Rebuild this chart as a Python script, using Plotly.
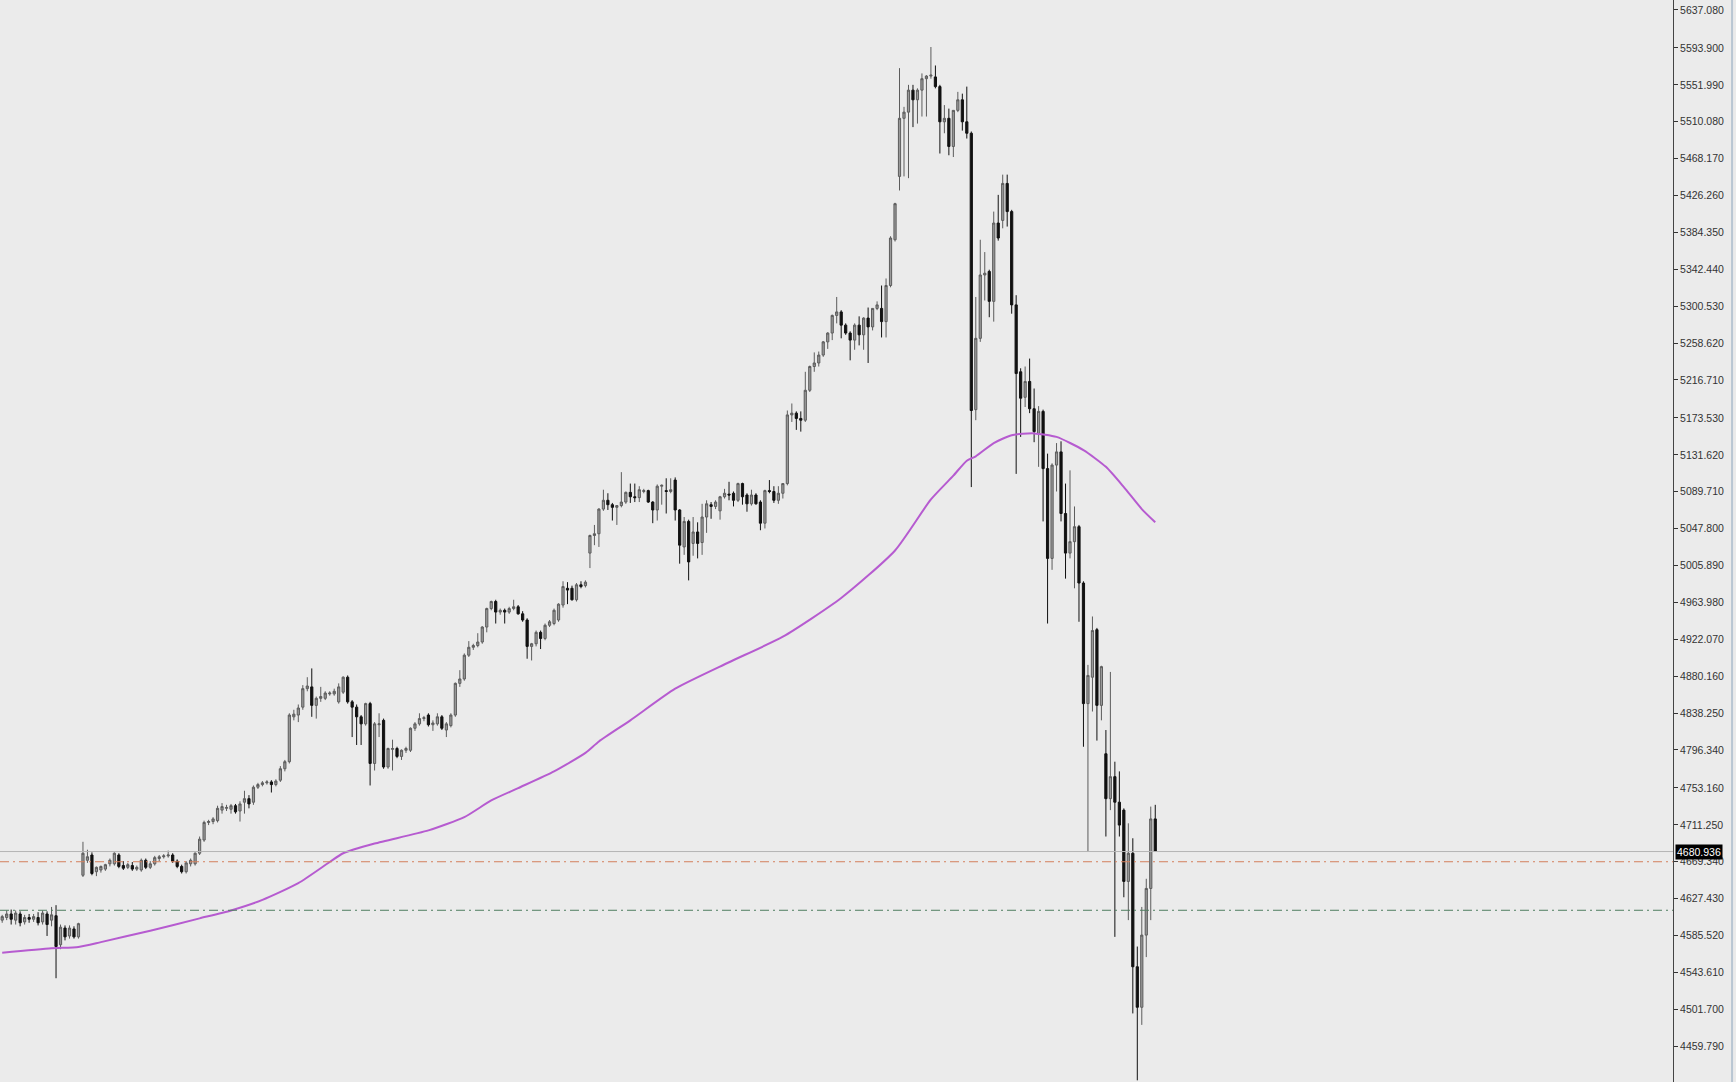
import plotly.graph_objects as go

# ---------------- data ----------------
open_ = [
    4603, 4606, 4610, 4603, 4610, 4601, 4606, 4604, 4606, 4601, 4610, 4603, 4608, 4575, 4594, 4585, 4593, 4584,
    4654, 4671, 4677, 4658, 4660, 4661, 4667, 4667, 4677, 4665, 4663, 4665, 4661, 4660, 4671, 4663, 4667, 4673,
    4675, 4676, 4677, 4670, 4664, 4658, 4667, 4667, 4679, 4694, 4714, 4715, 4716, 4728, 4730, 4729, 4733, 4727,
    4737, 4741, 4737, 4754, 4757, 4759, 4760, 4757, 4762, 4775, 4783, 4834, 4836,
    4845, 4866, 4868, 4847, 4855, 4855, 4860, 4860, 4851, 4862, 4879, 4851, 4845, 4834, 4826, 4849, 4781, 4825,
    4830, 4777, 4797, 4798, 4789, 4796, 4796, 4821, 4826, 4832, 4836, 4825, 4826, 4834, 4819, 4824, 4836, 4872,
    4877, 4904, 4913, 4915, 4919, 4936, 4957, 4965, 4953, 4955, 4953, 4957, 4959, 4951, 4944, 4914, 4917, 4930,
    4923, 4938, 4940, 4944, 4961, 4980, 4980, 4967, 4984, 4983,
    5020, 5040, 5042, 5070, 5080, 5075, 5072, 5074, 5078, 5089, 5084, 5083, 5090, 5091, 5078, 5069, 5096, 5091,
    5090, 5103, 5069, 5027, 5056, 5031, 5044, 5032, 5061, 5075, 5073, 5068, 5084, 5087, 5088, 5080, 5099, 5086,
    5076, 5086, 5078, 5054, 5091, 5090, 5080, 5088,
    5099, 5177, 5179, 5173, 5171, 5205, 5232, 5236, 5245, 5260, 5270, 5290, 5294, 5279, 5270, 5262, 5279, 5268,
    5287, 5277, 5298, 5298, 5283, 5324, 5376,
    5448, 5514, 5521, 5546, 5535, 5546, 5559, 5562, 5561, 5550, 5510, 5514, 5482, 5523, 5535, 5510, 5497, 5183,
    5264, 5336, 5340, 5306, 5395, 5398, 5440, 5408, 5302,
    5226, 5197, 5215, 5184, 5156, 5181, 5116, 5014, 5120, 5135, 5065, 5020, 5033, 5050,
    4986, 4849, 4879, 4933, 4847, 4792, 4741, 4766, 4737, 4728, 4647, 4679, 4550, 4504, 4586, 4639, 4718,
]
high = [
    4609, 4614, 4615, 4614, 4613, 4609, 4610, 4610, 4612, 4614, 4613, 4618, 4620, 4598, 4597, 4597, 4596, 4600,
    4692, 4683, 4680, 4664, 4665, 4667, 4673, 4680, 4679, 4670, 4668, 4669, 4665, 4673, 4673, 4670, 4676, 4677,
    4678, 4682, 4679, 4672, 4666, 4670, 4673, 4680, 4698, 4716, 4717, 4720, 4733, 4736, 4734, 4735, 4735, 4738,
    4750, 4745, 4756, 4759, 4761, 4762, 4762, 4763, 4778, 4785, 4838, 4842, 4848,
    4870, 4879, 4889, 4857, 4868, 4863, 4863, 4866, 4872, 4880, 4881, 4853, 4848, 4836, 4850, 4851, 4828, 4838,
    4832, 4799, 4808, 4800, 4797, 4800, 4822, 4828, 4838, 4835, 4838, 4830, 4838, 4836, 4828, 4838, 4873, 4887,
    4906, 4920, 4917, 4929, 4937, 4958, 4966, 4967, 4957, 4957, 4959, 4967, 4961, 4954, 4946, 4918, 4932, 4932,
    4940, 4944, 4957, 4963, 4988, 4987, 4983, 4986, 4988, 4989,
    5041, 5052, 5071, 5092, 5088, 5077, 5074, 5112, 5090, 5099, 5099, 5096, 5093, 5092, 5079, 5098, 5098, 5105,
    5105, 5106, 5070, 5061, 5058, 5061, 5055, 5076, 5080, 5078, 5080, 5085, 5093, 5101, 5090, 5100, 5100, 5088,
    5092, 5088, 5080, 5092, 5103, 5096, 5096, 5099,
    5182, 5190, 5181, 5181, 5226, 5233, 5248, 5249, 5261, 5271, 5291, 5311, 5296, 5281, 5272, 5281, 5289, 5288,
    5299, 5298, 5306, 5324, 5332, 5380, 5418,
    5571, 5527, 5552, 5552, 5548, 5565, 5563, 5595, 5574, 5552, 5529, 5525, 5523, 5544, 5542, 5550, 5499, 5311,
    5376, 5362, 5342, 5408, 5427, 5450, 5450, 5410, 5313,
    5230, 5232, 5241, 5207, 5187, 5183, 5133, 5122, 5145, 5147, 5099, 5114, 5073, 5052,
    4988, 4893, 4948, 4935, 4892, 4819, 4885, 4783, 4772, 4730, 4713, 4696, 4573, 4618, 4650, 4732, 4734,
]
low = [
    4600, 4603, 4598, 4598, 4596, 4598, 4600, 4601, 4597, 4598, 4585, 4596, 4537, 4570, 4580, 4582, 4582, 4582,
    4652, 4668, 4654, 4653, 4657, 4659, 4664, 4665, 4662, 4660, 4661, 4659, 4659, 4658, 4661, 4661, 4665, 4670,
    4673, 4674, 4668, 4662, 4656, 4656, 4664, 4665, 4677, 4692, 4711, 4712, 4714, 4724, 4727, 4724, 4724, 4715,
    4724, 4730, 4734, 4752, 4755, 4757, 4748, 4755, 4760, 4772, 4781, 4830, 4828,
    4842, 4863, 4834, 4832, 4851, 4853, 4858, 4858, 4849, 4860, 4849, 4811, 4802, 4802, 4824, 4756, 4773, 4811,
    4775, 4775, 4773, 4787, 4785, 4793, 4794, 4818, 4824, 4829, 4823, 4818, 4824, 4819, 4811, 4822, 4834, 4868,
    4875, 4902, 4910, 4913, 4917, 4930, 4955, 4940, 4950, 4940, 4951, 4955, 4950, 4942, 4900, 4898, 4914, 4911,
    4921, 4936, 4938, 4942, 4958, 4962, 4966, 4965, 4980, 4981,
    5003, 5029, 5027, 5068, 5069, 5057, 5052, 5072, 5076, 5077, 5078, 5078, 5088, 5077, 5054, 5057, 5075, 5065,
    5088, 5057, 5008, 5018, 4989, 5017, 5014, 5018, 5043, 5059, 5070, 5058, 5082, 5080, 5073, 5078, 5075, 5067,
    5074, 5075, 5046, 5048, 5088, 5077, 5076, 5082,
    5097, 5169, 5160, 5158, 5169, 5203, 5226, 5232, 5243, 5252, 5262, 5281, 5264, 5268, 5239, 5251, 5256, 5251,
    5236, 5273, 5296, 5265, 5265, 5322, 5374,
    5432, 5448, 5446, 5504, 5508, 5516, 5516, 5559, 5548, 5474, 5497, 5472, 5470, 5521, 5500, 5491, 5095, 5171,
    5260, 5307, 5288, 5283, 5375, 5389, 5391, 5292, 5110,
    5152, 5186, 5179, 5146, 5118, 5056, 4940, 5001, 5090, 5056, 4991, 5014, 4980, 4942,
    4800, 4681, 4840, 4807, 4830, 4698, 4728, 4584, 4698, 4629, 4603, 4497, 4421, 4484, 4561, 4603, 4681,
]
close = [
    4607, 4610, 4604, 4611, 4600, 4606, 4604, 4607, 4600, 4611, 4598, 4609, 4573, 4595, 4584, 4594, 4584, 4599,
    4679, 4675, 4656, 4663, 4664, 4666, 4671, 4679, 4664, 4662, 4666, 4661, 4663, 4671, 4663, 4667, 4674, 4675,
    4676, 4677, 4670, 4664, 4658, 4668, 4671, 4679, 4695, 4714, 4715, 4718, 4730, 4732, 4731, 4733, 4726, 4735,
    4741, 4735, 4754, 4757, 4759, 4760, 4757, 4761, 4775, 4783, 4836, 4837, 4844,
    4866, 4869, 4847, 4855, 4857, 4861, 4861, 4863, 4868, 4879, 4851, 4845, 4834, 4826, 4849, 4781, 4826, 4826,
    4777, 4798, 4798, 4789, 4796, 4798, 4821, 4826, 4832, 4833, 4825, 4827, 4834, 4821, 4826, 4836, 4872, 4877,
    4904, 4913, 4915, 4919, 4936, 4957, 4965, 4953, 4955, 4953, 4957, 4959, 4951, 4944, 4914, 4917, 4930, 4923,
    4938, 4942, 4955, 4962, 4982, 4978, 4967, 4984, 4982, 4987,
    5040, 5042, 5070, 5080, 5075, 5072, 5074, 5078, 5089, 5084, 5083, 5092, 5091, 5078, 5069, 5096, 5097, 5090,
    5092, 5069, 5029, 5056, 5010, 5044, 5031, 5061, 5076, 5073, 5078, 5084, 5088, 5086, 5080, 5099, 5084, 5076,
    5086, 5076, 5054, 5091, 5090, 5080, 5088, 5099,
    5177, 5179, 5173, 5171, 5205, 5232, 5236, 5245, 5260, 5270, 5290, 5294, 5279, 5270, 5262, 5279, 5268, 5287,
    5277, 5298, 5302, 5283, 5324, 5378, 5417,
    5514, 5521, 5546, 5535, 5546, 5559, 5562, 5563, 5550, 5510, 5514, 5482, 5523, 5535, 5510, 5497, 5182, 5264,
    5336, 5338, 5306, 5395, 5378, 5440, 5408, 5302, 5224,
    5196, 5215, 5184, 5158, 5181, 5116, 5014, 5120, 5135, 5065, 5020, 5033, 5050, 4986,
    4849, 4881, 4932, 4847, 4891, 4741, 4766, 4737, 4711, 4647, 4679, 4550, 4504, 4586, 4639, 4718, 4681,
]

# moving average line (read at sample bars)
ma_bar = [0, 11, 17, 22, 33, 44, 51, 58, 66, 73, 76, 83, 95, 103, 109, 115, 123, 130, 133, 140, 150, 162, 174,
          187, 199, 207, 212, 215, 217, 221, 225, 230, 235, 241, 246, 250, 254, 257]
ma_val = [4566, 4571, 4572.5, 4578, 4591, 4605, 4614, 4626, 4645, 4669, 4679, 4690, 4705, 4720, 4739, 4753,
          4772, 4793, 4806, 4830, 4866, 4896, 4925, 4969, 5023, 5081, 5108, 5125, 5130, 5145, 5154, 5156, 5152,
          5137, 5118, 5095, 5070, 5055]

current_price = 4680.936
level_orange = 4669.34
level_green = 4614.2

tick_vals = [5637.080, 5593.900, 5551.990, 5510.080, 5468.170, 5426.260, 5384.350, 5342.440, 5300.530,
             5258.620, 5216.710, 5173.530, 5131.620, 5089.710, 5047.800, 5005.890, 4963.980, 4922.070,
             4880.160, 4838.250, 4796.340, 4753.160, 4711.250, 4669.340, 4627.430, 4585.520, 4543.610,
             4501.700, 4459.790]
tick_text = ["%.3f" % v for v in tick_vals]

bars = list(range(len(close)))

# ---------------- figure ----------------
BG = "#ebebeb"
fig = go.Figure()

fig.add_trace(go.Candlestick(
    x=bars, open=open_, high=high, low=low, close=close,
    increasing=dict(line=dict(color="#5c5c5c", width=1), fillcolor="#9a9a9a"),
    decreasing=dict(line=dict(color="#111111", width=1), fillcolor="#111111"),
    whiskerwidth=0, showlegend=False, hoverinfo="skip",
))

fig.add_trace(go.Scatter(
    x=ma_bar, y=ma_val, mode="lines", line=dict(color="#b65bd0", width=2, shape="spline", smoothing=0.6),
    showlegend=False, hoverinfo="skip",
))

# horizontal levels
fig.add_shape(type="line", xref="paper", x0=0, x1=1, yref="y", y0=current_price, y1=current_price,
              line=dict(color="#b4b4b4", width=1))
fig.add_shape(type="line", xref="paper", x0=0, x1=1, yref="y", y0=level_orange, y1=level_orange,
              line=dict(color="#d4805e", width=1, dash="9px,4px,2px,4px"))
fig.add_shape(type="line", xref="paper", x0=0, x1=1, yref="y", y0=level_green, y1=level_green,
              line=dict(color="#4f7d60", width=1, dash="9px,4px,2px,4px"))

# right window border
fig.add_shape(type="line", xref="paper", x0=1.0353, x1=1.0353, yref="paper", y0=0, y1=1,
              line=dict(color="#b9c6d3", width=2))

# current price tag
fig.add_annotation(xref="paper", x=1.0, xanchor="left", xshift=2, yref="y", y=current_price,
                   text="4680.936", showarrow=False, bgcolor="#000000", borderpad=1,
                   font=dict(family="Liberation Sans, Arial, sans-serif", size=10.5, color="#ffffff"))

fig.update_layout(
    width=1736, height=1082,
    margin=dict(l=0, r=63, t=0, b=0),
    paper_bgcolor=BG, plot_bgcolor=BG,
    showlegend=False,
    xaxis=dict(range=[-0.49, 372.4], showgrid=False, zeroline=False, showticklabels=False,
               ticks="", showline=False, rangeslider=dict(visible=False), fixedrange=True),
    yaxis=dict(side="right", range=[4419.1, 5648.4], showgrid=False, zeroline=False,
               tickmode="array", tickvals=tick_vals, ticktext=tick_text,
               ticks="outside", ticklen=4, tickcolor="#333333", tickwidth=1,
               showline=True, linecolor="#444444", linewidth=1,
               tickfont=dict(family="Liberation Sans, Arial, sans-serif", size=10.5, color="#333333"),
               fixedrange=True),
    boxgap=0.3,
)

fig.write_html("out.html", config={"displayModeBar": False},
               post_script="document.body.style.margin='0';document.body.style.overflow='hidden';")
